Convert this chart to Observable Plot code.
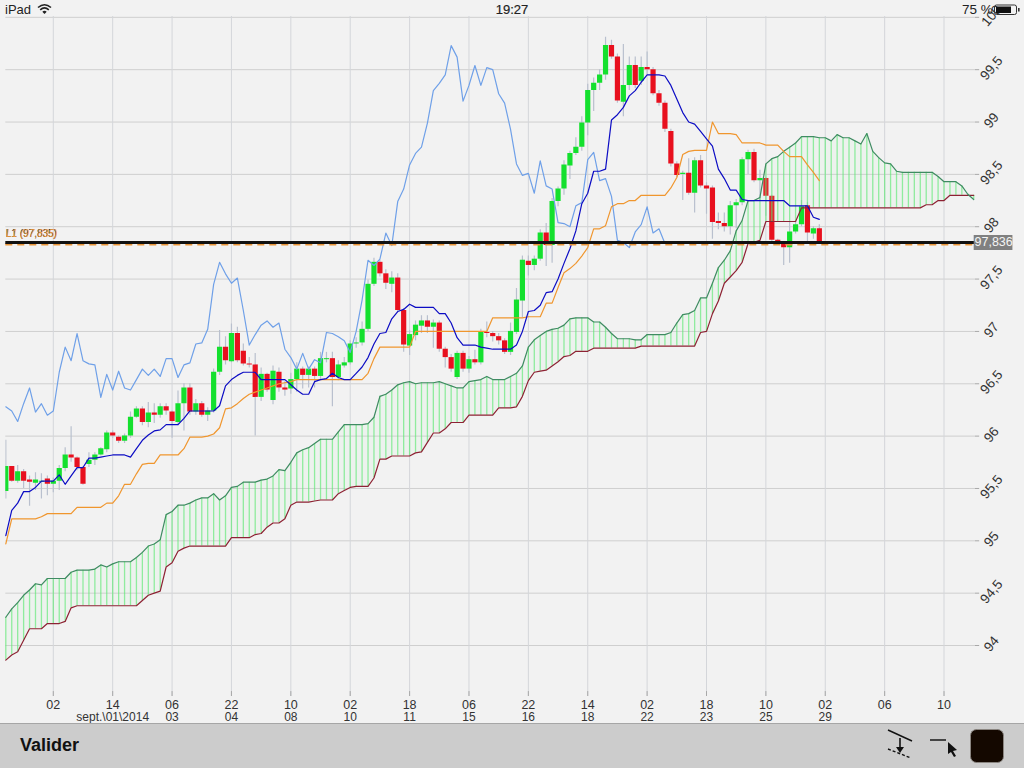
<!DOCTYPE html>
<html>
<head>
<meta charset="utf-8">
<script src="https://cdn.jsdelivr.net/npm/d3@7"></script>
<script src="https://cdn.jsdelivr.net/npm/@observablehq/plot@0.6"></script>
<style>
html,body{margin:0;padding:0;background:#f2f2f2;width:1024px;height:768px;overflow:hidden;font-family:"Liberation Sans",Arial,sans-serif}
#chart{position:absolute;left:0;top:0}
#chart svg{display:block;background:transparent}
.status{position:absolute;font-size:13px;color:#222;line-height:16px;top:2px}
#toolbar{position:absolute;left:0;top:723px;width:1024px;height:45px;background:#cccccc;border-top:1px solid #a6a6a6;box-sizing:border-box}
#valider{position:absolute;left:20px;top:10px;font-size:18px;font-weight:bold;color:#111;line-height:22px}
#tools{position:absolute;left:880px;top:0}
</style>
</head>
<body>
<div id="chart"></div>
<div class="status" style="left:5px">iPad</div>
<svg class="status" style="left:37px;top:3px" width="15" height="12" viewBox="0 0 15 12"><path d="M1 4.5Q7.5-1 14 4.5M3.2 6.8Q7.5 3 11.8 6.8" fill="none" stroke="#222" stroke-width="1.6"/><path d="M5.3 8.8Q7.5 6.9 9.7 8.8L7.5 11Z" fill="#222"/></svg>
<div class="status" style="left:0;width:1024px;text-align:center;color:#222;-webkit-text-stroke:0.2px #222">19:27</div>
<div class="status" style="left:962px;font-size:13.5px">75 %</div>
<svg class="status" style="left:994px;top:4px" width="27" height="12" viewBox="0 0 27 12"><rect x="0.5" y="1" width="22" height="9.5" rx="2" fill="none" stroke="#333"/><rect x="2" y="2.5" width="15" height="6.5" fill="#111"/><rect x="24" y="4" width="1.6" height="3.5" fill="#333"/></svg>
<div id="toolbar">
  <div id="valider">Valider</div>
  <svg id="tools" width="144" height="44" viewBox="0 0 144 44">
    <path d="M8 6L32 17" stroke="#111" stroke-width="1.4"/>
    <path d="M8 25L31 34" stroke="#111" stroke-width="1.4" stroke-dasharray="3 2"/>
    <path d="M20 14V24" stroke="#111" stroke-width="1.6"/><path d="M16 23H24L20 29Z" fill="#111"/>
    <path d="M50 16H66" stroke="#222" stroke-width="1.6"/>
    <path d="M68 18L77 26L73 27L76 32L74 33L71 28L68 30Z" fill="#111"/>
    <rect x="90.5" y="5.5" width="33" height="33" rx="6" fill="#140800" stroke="#8a8580"/>
  </svg>
</div>
<script>
const open = [
95.47,95.71,95.57,95.66,95.58,95.55,95.56,95.59,95.54,95.57,
95.69,95.82,95.79,95.70,95.73,95.77,95.82,95.87,96.03,95.99,
95.95,96.00,96.18,96.26,96.13,96.22,96.20,96.28,96.23,96.13,
96.31,96.46,96.23,96.31,96.20,96.24,96.61,96.85,96.71,96.98,
96.81,96.69,96.68,96.37,96.59,96.34,96.61,96.46,96.45,96.54,
96.64,96.58,96.64,96.57,96.73,96.74,96.56,96.67,96.70,96.88,
96.89,97.02,97.45,97.66,97.55,97.45,97.51,97.20,96.86,96.96,
97.05,97.10,97.04,97.08,96.83,96.75,96.56,96.79,96.64,96.73,
96.70,96.99,96.98,96.95,96.91,96.80,96.99,97.29,97.67,97.63,
97.69,97.94,97.82,98.24,98.36,98.58,98.70,98.76,98.99,99.30,
99.37,99.45,99.73,99.62,99.19,99.35,99.54,99.39,99.52,99.50,
99.27,99.18,98.91,98.60,98.50,98.51,98.32,98.63,98.39,98.37,
98.05,98.03,98.00,98.20,98.23,98.64,98.71,98.44,98.46,98.29,
97.87,97.84,97.80,97.95,98.02,98.20,97.93,97.98];
const close = [
95.71,95.57,95.66,95.57,95.56,95.58,95.57,95.54,95.57,95.69,
95.82,95.79,95.70,95.54,95.77,95.82,95.88,96.03,96.00,95.95,
96.00,96.18,96.26,96.13,96.22,96.20,96.28,96.24,96.14,96.31,
96.46,96.23,96.31,96.20,96.24,96.61,96.85,96.72,96.98,96.72,
96.69,96.68,96.37,96.59,96.44,96.62,96.46,96.44,96.54,96.64,
96.58,96.64,96.57,96.74,96.74,96.56,96.68,96.70,96.88,96.89,
97.02,97.45,97.66,97.55,97.46,97.51,97.20,96.87,96.97,97.06,
97.10,97.04,97.08,96.83,96.75,96.64,96.79,96.64,96.73,96.70,
96.99,96.98,96.95,96.91,96.80,97.00,97.30,97.68,97.63,97.69,
97.94,97.82,98.24,98.36,98.59,98.70,98.76,98.99,99.30,99.37,
99.45,99.73,99.62,99.20,99.35,99.54,99.35,99.52,99.50,99.27,
99.18,98.93,98.60,98.49,98.51,98.32,98.63,98.39,98.36,98.04,
98.03,98.00,98.20,98.23,98.64,98.71,98.44,98.46,98.29,97.87,
97.85,97.80,97.95,98.02,98.19,97.94,97.98,97.84];
const high = [
95.96,95.71,95.72,95.68,95.62,95.65,95.64,95.62,95.60,95.72,
95.89,96.09,95.80,95.71,95.84,95.84,95.89,96.05,96.05,96.00,
96.02,96.23,96.28,96.28,96.32,96.31,96.31,96.31,96.24,96.43,
96.50,96.50,96.35,96.33,96.27,96.64,97.01,96.95,97.07,97.04,
96.88,96.75,96.79,96.65,96.60,96.67,96.65,96.52,96.60,96.70,
96.66,96.66,96.66,96.80,96.80,96.80,96.72,96.75,96.91,96.94,
97.09,97.49,97.70,97.68,97.59,97.57,97.55,97.22,97.01,97.10,
97.15,97.15,97.11,97.10,96.85,96.78,96.81,96.81,96.76,96.82,
97.02,97.09,97.00,96.98,96.93,97.08,97.41,97.72,97.72,97.72,
97.97,98.03,98.27,98.38,98.63,98.72,98.85,99.05,99.36,99.42,
99.50,99.81,99.78,99.65,99.74,99.62,99.62,99.62,99.67,99.52,
99.30,99.20,98.93,98.62,98.53,98.65,98.66,98.68,98.42,98.39,
98.13,98.13,98.24,98.26,98.66,98.73,98.74,98.54,98.47,98.30,
97.88,97.86,98.05,98.05,98.25,98.23,98.00,98.02];
const low = [
95.40,95.56,95.55,95.50,95.33,95.48,95.40,95.43,95.46,95.48,
95.66,95.75,95.67,95.53,95.70,95.72,95.81,95.84,95.98,95.93,
95.93,95.98,96.17,96.10,96.08,96.12,96.17,96.20,95.98,96.10,
96.05,96.20,96.20,96.18,96.14,96.22,96.58,96.68,96.70,96.70,
96.67,96.65,96.00,96.33,96.42,96.30,96.42,96.38,96.40,96.42,
96.45,96.46,96.46,96.54,96.70,96.28,96.53,96.65,96.68,96.84,
96.86,97.00,97.43,97.52,97.40,97.37,97.18,96.80,96.77,96.91,
96.98,96.98,96.84,96.80,96.65,96.61,96.54,96.61,96.60,96.68,
96.68,96.94,96.90,96.87,96.78,96.77,96.97,97.13,97.53,97.58,
97.67,97.62,97.65,98.19,98.30,98.45,98.68,98.72,98.87,99.10,
99.30,99.40,99.60,99.18,99.05,99.30,99.32,99.35,99.45,99.25,
99.15,98.90,98.57,98.47,98.25,98.30,98.13,98.37,98.12,97.88,
97.97,97.95,97.92,97.98,98.20,98.50,98.42,98.25,98.10,97.85,
97.84,97.63,97.65,97.93,98.00,97.85,97.88,97.83];
const tenkan = [
95.05,95.29,95.36,95.47,95.47,95.51,95.57,95.57,95.57,95.63,
95.54,95.62,95.70,95.70,95.79,95.79,95.80,95.81,95.82,95.82,
95.82,95.80,95.88,95.96,96.01,96.05,96.06,96.11,96.11,96.11,
96.17,96.24,96.24,96.24,96.24,96.24,96.29,96.48,96.54,96.58,
96.61,96.61,96.61,96.54,96.54,96.54,96.54,96.54,96.49,96.44,
96.40,96.40,96.52,96.54,96.55,96.60,96.56,96.54,96.54,96.60,
96.66,96.75,96.88,96.98,96.99,97.12,97.19,97.21,97.26,97.23,
97.23,97.23,97.23,97.17,97.17,97.08,96.94,96.87,96.87,96.87,
96.85,96.84,96.83,96.83,96.83,96.83,96.87,97.00,97.19,97.20,
97.25,97.37,97.38,97.50,97.65,97.79,97.96,98.22,98.32,98.53,
98.53,98.55,99.02,99.07,99.14,99.25,99.30,99.38,99.45,99.45,
99.45,99.44,99.35,99.22,99.09,99.00,98.98,98.91,98.84,98.77,
98.55,98.46,98.35,98.35,98.26,98.25,98.25,98.25,98.25,98.25,
98.25,98.25,98.20,98.20,98.20,98.20,98.09,98.07];
const kijun = [
94.97,95.21,95.21,95.21,95.21,95.21,95.23,95.26,95.26,95.26,
95.26,95.26,95.32,95.32,95.32,95.32,95.32,95.36,95.36,95.43,
95.54,95.54,95.64,95.73,95.74,95.74,95.82,95.82,95.82,95.82,
95.88,95.99,95.99,95.99,96.00,96.02,96.08,96.26,96.27,96.31,
96.36,96.40,96.42,96.44,96.46,96.48,96.50,96.51,96.52,96.54,
96.54,96.54,96.54,96.54,96.54,96.54,96.54,96.54,96.54,96.54,
96.54,96.60,96.74,96.85,96.85,96.85,96.85,96.85,96.85,97.00,
97.00,97.00,97.00,97.00,97.00,97.00,97.00,97.00,97.00,97.00,
97.00,97.00,97.13,97.13,97.13,97.13,97.13,97.13,97.14,97.14,
97.14,97.27,97.27,97.42,97.56,97.60,97.65,97.72,97.80,97.98,
97.98,98.01,98.19,98.22,98.22,98.25,98.25,98.30,98.30,98.30,
98.30,98.30,98.37,98.47,98.69,98.72,98.73,98.73,98.73,99.00,
98.89,98.89,98.89,98.88,98.80,98.80,98.80,98.80,98.78,98.78,
98.78,98.72,98.67,98.67,98.67,98.59,98.52,98.44];
const chikou = [
96.28,96.24,96.14,96.31,96.46,96.23,96.31,96.20,96.24,96.61,
96.85,96.72,96.98,96.72,96.69,96.68,96.37,96.59,96.44,96.62,
96.46,96.44,96.54,96.64,96.58,96.64,96.57,96.74,96.74,96.56,
96.68,96.70,96.88,96.89,97.02,97.45,97.66,97.55,97.46,97.51,
97.20,96.87,96.97,97.06,97.10,97.04,97.08,96.83,96.75,96.64,
96.79,96.64,96.73,96.70,96.99,96.98,96.95,96.91,96.80,97.00,
97.30,97.68,97.63,97.69,97.94,97.82,98.24,98.36,98.59,98.70,
98.76,98.99,99.30,99.37,99.45,99.73,99.62,99.20,99.35,99.54,
99.35,99.52,99.50,99.27,99.18,98.93,98.60,98.49,98.51,98.32,
98.63,98.39,98.36,98.04,98.03,98.00,98.20,98.23,98.64,98.71,
98.44,98.46,98.29,97.87,97.85,97.80,97.95,98.02,98.19,97.94,
97.98,97.84];
const senkouA = [
94.27,94.35,94.41,94.48,94.53,94.59,94.58,94.64,94.64,94.64,
94.64,94.70,94.72,94.72,94.72,94.73,94.77,94.75,94.78,94.80,
94.80,94.80,94.84,94.89,94.95,94.97,95.01,95.25,95.28,95.34,
95.34,95.36,95.39,95.41,95.41,95.45,95.39,95.43,95.51,95.52,
95.56,95.56,95.56,95.58,95.59,95.62,95.68,95.67,95.75,95.84,
95.87,95.89,95.93,95.97,95.97,95.97,96.04,96.11,96.11,96.11,
96.11,96.12,96.18,96.38,96.40,96.44,96.49,96.51,96.52,96.50,
96.51,96.51,96.51,96.52,96.50,96.48,96.46,96.46,96.52,96.53,
96.54,96.57,96.54,96.54,96.54,96.57,96.60,96.67,96.85,96.92,
96.96,97.00,97.02,97.03,97.06,97.12,97.13,97.13,97.13,97.09,
97.09,97.04,96.98,96.93,96.93,96.93,96.92,96.92,96.97,96.97,
96.97,96.97,96.99,97.08,97.16,97.17,97.20,97.32,97.32,97.46,
97.61,97.68,97.77,97.96,98.06,98.25,98.25,98.28,98.60,98.65,
98.67,98.72,98.76,98.80,98.86,98.86,98.86,98.85,98.85,98.82,
98.88,98.85,98.85,98.82,98.79,98.89,98.72,98.66,98.61,98.60,
98.53,98.52,98.52,98.52,98.52,98.52,98.52,98.48,98.43,98.43,
98.43,98.39,98.31,98.26];
const senkouB = [
93.86,93.91,93.94,94.05,94.16,94.16,94.16,94.21,94.21,94.21,
94.23,94.36,94.38,94.38,94.38,94.38,94.38,94.38,94.38,94.38,
94.38,94.38,94.38,94.43,94.48,94.50,94.52,94.75,94.79,94.90,
94.93,94.95,94.95,94.95,94.95,94.95,94.95,94.95,95.03,95.03,
95.03,95.03,95.06,95.07,95.13,95.17,95.17,95.21,95.34,95.37,
95.37,95.37,95.38,95.39,95.39,95.39,95.45,95.48,95.51,95.52,
95.52,95.52,95.60,95.78,95.78,95.81,95.81,95.81,95.81,95.84,
95.85,95.94,96.03,96.03,96.07,96.13,96.13,96.13,96.20,96.20,
96.20,96.20,96.20,96.27,96.27,96.27,96.28,96.38,96.53,96.61,
96.62,96.63,96.67,96.71,96.76,96.77,96.81,96.81,96.81,96.84,
96.84,96.84,96.84,96.84,96.84,96.84,96.84,96.86,96.86,96.86,
96.86,96.86,96.86,96.86,96.86,96.86,96.86,96.99,97.00,97.17,
97.29,97.46,97.52,97.58,97.66,97.84,97.85,97.87,98.05,98.05,
98.05,98.05,98.05,98.05,98.18,98.18,98.18,98.18,98.18,98.18,
98.18,98.18,98.18,98.18,98.18,98.18,98.18,98.18,98.18,98.18,
98.18,98.18,98.18,98.18,98.18,98.21,98.21,98.25,98.25,98.30,
98.30,98.30,98.30,98.30];
const xTickIndex = [8,18,28,38,48,58,68,78,88,98,108,118,128,138,148,158];
const xTickTop = ["02","14","06","22","10","02","18","06","22","14","02","18","10","02","06","10"];
const xTickBottom = ["","sept.\\01\\2014","03","04","08","10","11","15","16","18","22","23","25","29","",""];
const yTicks = [94,94.5,95,95.5,96,96.5,97,97.5,98,98.5,99,99.5,100];
const lineValue = 97.85;
const levelL1 = 97.833;
const priceLabel = "97,836";
const levelLabel = "L1 (97,835)";

const candles = close.map((c,i)=>({i,open:open[i],close:c,high:high[i],low:low[i]}));
const cloud = senkouA.map((a,i)=>({i,a,b:senkouB[i]}));
const series = a => a.map((v,i)=>({i,v}));
const fmt = v => String(v).replace(".",",");
const GREEN="#14e02e", RED="#e8101e";

const plot = Plot.plot({
  width:1024,height:723,
  marginLeft:5.3,marginRight:49,marginTop:16,marginBottom:27,
  style:{background:"transparent",fontFamily:"'Liberation Sans',Arial,sans-serif",overflow:"visible"},
  x:{domain:[0,163.3],axis:null},
  y:{domain:[93.513,100.008],axis:null},
  marks:[
    Plot.ruleY(yTicks,{x1:0,x2:163.3,stroke:"#cfcfcf",strokeWidth:1}),
    Plot.ruleY(yTicks,{x1:163.3,x2:164,stroke:"#a8a8a8",strokeWidth:1}),
    Plot.ruleX(xTickIndex,{stroke:"#d4d6da",strokeWidth:1}),
    Plot.ruleX(xTickIndex,{y1:93.513,y2:93.56,stroke:"#a8a8a8",strokeWidth:1}),
    Plot.ruleX(candles,{x:"i",y1:"low",y2:"high",stroke:"#b9c0ce",strokeWidth:1.2,clip:true}),
    Plot.ruleX(candles,{x:"i",y1:"open",y2:"close",stroke:d=>d.close>=d.open?GREEN:RED,strokeWidth:5.2,clip:true}),
    Plot.areaY(cloud,{x:"i",y1:"a",y2:"b",fill:"#c8f2cc",fillOpacity:0.1}),
    Plot.ruleX(cloud,{x:"i",y1:"a",y2:"b",stroke:"#5ce873",strokeWidth:1.3,strokeOpacity:0.65}),
    Plot.line(series(senkouB),{x:"i",y:"v",stroke:"#8d2233",strokeWidth:1.2}),
    Plot.line(series(senkouA),{x:"i",y:"v",stroke:"#3f8b62",strokeWidth:1.2}),
    Plot.line(series(chikou),{x:"i",y:"v",stroke:"#6fa0e8",strokeWidth:1.2}),
    Plot.line(series(kijun),{x:"i",y:"v",stroke:"#f0962e",strokeWidth:1.2}),
    Plot.line(series(tenkan),{x:"i",y:"v",stroke:"#0c0cc4",strokeWidth:1.2}),
    Plot.ruleY([levelL1],{x1:0,x2:163.3,stroke:"#e8953a",strokeWidth:2.4,strokeDasharray:"7 5"}),
    Plot.ruleY([lineValue],{x1:0,x2:163.3,stroke:"#111",strokeWidth:3}),
    Plot.text([levelLabel],{x:0,y:levelL1,text:d=>d,dy:-10.5,textAnchor:"start",fill:"#3a2a1a",fontSize:10}),
    Plot.text([levelLabel],{x:0,y:levelL1,text:d=>d,dy:-10.5,dx:0.5,textAnchor:"start",fill:"#ef9a3c",fontSize:10,fontStyle:"italic"}),
    Plot.ruleY([lineValue],{x1:163.08,x2:169.6,stroke:"#808080",strokeWidth:15}),
    Plot.text([priceLabel],{x:166.35,y:lineValue,text:d=>d,fill:"#f4f4f4",fontSize:12.5}),
    Plot.text(yTicks,{y:d=>d,text:fmt,frameAnchor:"right",textAnchor:"middle",dx:16,dy:-1.5,rotate:-50,fill:"#333",fontSize:13.5}),
    Plot.text(xTickIndex,{x:d=>d,text:(d,i)=>xTickTop[i],frameAnchor:"bottom",dy:8,lineAnchor:"middle",fill:"#333",fontSize:12.5}),
    Plot.text(xTickIndex,{x:d=>d,text:(d,i)=>xTickBottom[i],frameAnchor:"bottom",dy:21,lineAnchor:"middle",fill:"#333",fontSize:12})
  ]
});
document.getElementById("chart").appendChild(plot);
</script>
</body>
</html>
